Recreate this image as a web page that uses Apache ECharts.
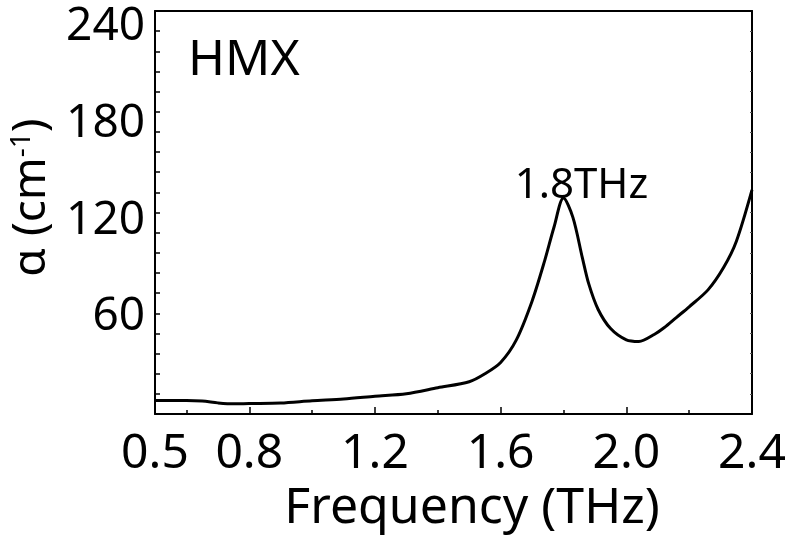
<!DOCTYPE html>
<html>
<head>
<meta charset="utf-8">
<script src="https://cdn.jsdelivr.net/npm/echarts@6/dist/echarts.min.js"></script>
<style>
  html, body { margin: 0; padding: 0; background: #fff; }
  #chart { width: 797px; height: 539px; }
</style>
</head>
<body>
<div id="chart"></div>
<script>
// HMX absorption coefficient spectrum
const sampleName = 'HMX';
const freqTHz = [0.50, 0.60, 0.65, 0.70, 0.75, 0.80, 0.90, 1.00, 1.10, 1.20, 1.30, 1.40, 1.50, 1.55,
                 1.60, 1.65, 1.70, 1.74, 1.77, 1.80, 1.83, 1.86, 1.88, 1.91, 1.95, 2.00, 2.04, 2.09,
                 2.12, 2.16, 2.20, 2.26, 2.31, 2.35, 2.40];
const alpha = [8.3, 8.3, 8.0, 6.9, 6.3, 6.5, 6.8, 8.2, 9.3, 11.0, 12.6, 16.3, 20.0, 25.0,
               32.0, 46.0, 70.0, 95.0, 116.0, 134.0, 122.0, 97.0, 81.0, 65.0, 53.0, 46.0, 45.0, 49.5,
               53.5, 60.0, 66.5, 77.0, 91.0, 107.0, 139.0];

// axis ticks and labels
const xLabels = [0.5, 0.8, 1.2, 1.6, 2.0, 2.4];
const xMajorTicks = [0.8, 1.2, 1.6, 2.0];
const xMinorTicks = [0.6, 1.0, 1.4, 1.8, 2.2];
const yLabels = [60, 120, 180, 240];
const yTickStep = 12.5;
const yMax = 250;

const yTicks = [];
for (let v = yTickStep; v < yMax; v += yTickStep) yTicks.push(v);

// absorption peak (interior local maximum), annotated with its frequency
let peakIdx = 1;
for (let i = 1; i < alpha.length - 1; i++) {
  if (alpha[i] > alpha[i - 1] && alpha[i] > alpha[i + 1] && alpha[i] > alpha[peakIdx]) peakIdx = i;
}

const FONT = 'Noto Sans';
const lineStyle = { color: '#000', width: 2 };

const chart = echarts.init(document.getElementById('chart'), null, { renderer: 'canvas' });

chart.setOption({
  animation: false,
  backgroundColor: '#fff',
  grid: { left: 155, top: 11, right: 45, bottom: 125, containLabel: false },
  xAxis: [
    {
      type: 'value', min: 0.5, max: 2.4, position: 'bottom',
      name: 'Frequency (THz)', nameLocation: 'middle', nameGap: 70,
      nameTextStyle: { fontFamily: FONT, fontSize: 50, color: '#000', padding: [0, 0, 0, 37] },
      axisLine: { show: true, onZero: false, lineStyle },
      axisTick: { show: true, inside: true, length: 7, customValues: xMajorTicks, lineStyle: { color: '#000', width: 1.5 } },
      axisLabel: { customValues: xLabels, margin: 16, fontFamily: FONT, fontSize: 48, color: '#000',
                   formatter: v => v.toFixed(1) },
      splitLine: { show: false }
    },
    {
      type: 'value', min: 0.5, max: 2.4, position: 'bottom',
      axisLine: { show: false },
      axisTick: { show: true, inside: true, length: 4, customValues: xMinorTicks, lineStyle: { color: '#000', width: 1.5 } },
      axisLabel: { show: false },
      splitLine: { show: false }
    },
    {
      type: 'value', min: 0.5, max: 2.4, position: 'top',
      axisLine: { show: true, onZero: false, lineStyle },
      axisTick: { show: false },
      axisLabel: { show: false },
      splitLine: { show: false }
    }
  ],
  yAxis: [
    {
      type: 'value', min: 0, max: yMax, position: 'left',
      name: '{a|α (cm}{s|-1}{a|)}', nameLocation: 'middle', nameGap: 98, nameRotate: 90,
      nameTextStyle: {
        padding: [0, 0, 0, 30],
        rich: {
          a: { fontFamily: FONT, fontSize: 46, color: '#000' },
          s: { fontFamily: FONT, fontSize: 28, color: '#000', verticalAlign: 'top', padding: [0, 0, 20, 0] }
        }
      },
      axisLine: { show: true, onZero: false, lineStyle },
      axisTick: { show: true, inside: true, length: 5, customValues: yTicks, lineStyle: { color: '#000', width: 1.5 } },
      axisLabel: { customValues: yLabels, margin: 10, fontFamily: FONT, fontSize: 46, color: '#000' },
      splitLine: { show: false }
    },
    {
      type: 'value', min: 0, max: yMax, position: 'right',
      axisLine: { show: true, onZero: false, lineStyle },
      axisTick: { show: true, inside: true, length: 2, customValues: yTicks, lineStyle: { color: '#555', width: 1 } },
      axisLabel: { show: false },
      splitLine: { show: false }
    }
  ],
  graphic: [
    {
      type: 'text', left: 188, top: 36,
      style: { text: sampleName, font: '50px "Noto Sans"', fill: '#000' }
    }
  ],
  series: [
    {
      type: 'line',
      xAxisIndex: 0, yAxisIndex: 0,
      data: freqTHz.map((f, i) => [f, alpha[i]]),
      showSymbol: false,
      symbol: 'none',
      smooth: 0.3,
      lineStyle: { color: '#000', width: 3 },
      clip: true,
      markPoint: {
        symbol: 'circle',
        symbolSize: 0,
        silent: true,
        data: [{ coord: [freqTHz[peakIdx], alpha[peakIdx]], value: freqTHz[peakIdx] }],
        label: {
          show: true,
          position: 'top',
          distance: -9,
          offset: [18, 0],
          formatter: p => Number(p.value).toFixed(1) + 'THz',
          fontFamily: FONT,
          fontSize: 42,
          color: '#000'
        }
      }
    }
  ]
});
</script>
</body>
</html>
